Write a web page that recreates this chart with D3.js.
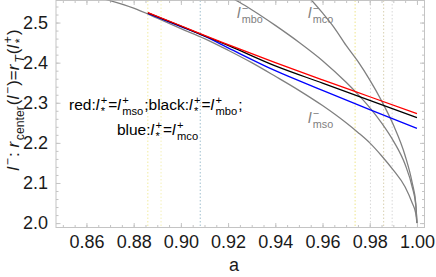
<!DOCTYPE html>
<html>
<head>
<meta charset="utf-8">
<script src="https://cdn.jsdelivr.net/npm/d3@7"></script>
<style>
  body { margin: 0; background: #fff; }
  svg { display: block; font-family: Arial, "Liberation Sans", sans-serif; }
  text { white-space: pre; }
</style>
</head>
<body>
<div id="chart"></div>
<script>
// gray reference curves l_mso, l_mbo, l_mco versus spin a
const aMso = [0.868, 0.880, 0.890, 0.900, 0.910, 0.920, 0.930, 0.940, 0.950, 0.960, 0.970, 0.975, 0.980, 0.985, 0.990, 0.995, 0.998, 0.9995, 1.000];
const lMso = [2.558, 2.536, 2.511, 2.485, 2.460, 2.431, 2.400, 2.366, 2.331, 2.293, 2.250, 2.226, 2.200, 2.168, 2.132, 2.090, 2.050, 2.024, 2.000];

const aMbo = [0.922, 0.925, 0.930, 0.940, 0.950, 0.960, 0.970, 0.975, 0.980, 0.985, 0.990, 0.995, 0.998, 0.9995, 1.000];
const lMbo = [2.560, 2.550, 2.532, 2.493, 2.451, 2.405, 2.351, 2.321, 2.288, 2.250, 2.205, 2.146, 2.090, 2.045, 2.000];

const aMco = [0.955, 0.960, 0.965, 0.970, 0.975, 0.980, 0.985, 0.990, 0.995, 0.998, 0.9995, 1.000];
const lMco = [2.558, 2.524, 2.487, 2.443, 2.403, 2.357, 2.305, 2.245, 2.168, 2.100, 2.049, 2.000];

// coloured curves, l_* = l_mso (red), l_mbo (black), l_mco (blue)
const aStar = [0.886, 0.900, 0.910, 0.920, 0.940, 0.960, 0.980, 1.000];
const lRed = [2.525, 2.492, 2.468, 2.445, 2.400, 2.357, 2.315, 2.273];
const lBlack = [2.524, 2.491, 2.467, 2.443, 2.392, 2.349, 2.306, 2.263];
const lBlue = [2.523, 2.490, 2.466, 2.437, 2.380, 2.331, 2.283, 2.236];

// dotted vertical marker lines
const markA = [0.886, 0.8916, 0.9082, 0.9738, 0.9803, 0.9859, 0.9895];
const markColor = ["#f2eca0", "#f4f0b8", "#9fbfcf", "#eee58a", "#d8d8d8", "#d8d0b0", "#d8d8d8"];

const xTicks = [0.86, 0.88, 0.90, 0.92, 0.94, 0.96, 0.98, 1.00];
const yTicks = [2.0, 2.1, 2.2, 2.3, 2.4, 2.5];

const W = 436, H = 277;
const margin = { top: 0.5, right: 11.5, bottom: 49.5, left: 56 };
const width = W - margin.left - margin.right;
const height = H - margin.top - margin.bottom;

const svg = d3.select('#chart').append('svg')
    .attr('width', W)
    .attr('height', H);

const g = svg.append('g')
    .attr('transform', `translate(${margin.left}, ${margin.top})`);

const x = d3.scaleLinear().domain([0.8471, 1.0032]).range([0, width]);
const y = d3.scaleLinear().domain([1.989, 2.555]).range([height, 0]);

g.append('clipPath').attr('id', 'clip')
    .append('rect').attr('width', width).attr('height', height);

// marker lines
g.selectAll('.mark')
    .data(markA)
    .join('line')
    .attr('x1', d => x(d)).attr('x2', d => x(d))
    .attr('y1', 0).attr('y2', height)
    .attr('stroke', (d, i) => markColor[i])
    .attr('stroke-width', 1)
    .attr('stroke-dasharray', '1.5,2');

// frame and ticks
const frameColor = '#c4c4c4';
g.append('rect')
    .attr('width', width).attr('height', height)
    .attr('fill', 'none').attr('stroke', frameColor);

const xMinor = d3.range(0.850, 1.0031, 0.005);
const yMinor = d3.range(2.0, 2.555, 0.02);

g.append('g').attr('transform', `translate(0,${height})`)
    .call(d3.axisBottom(x).tickValues(xMinor).tickSize(-2.5).tickFormat(''));
g.append('g')
    .call(d3.axisTop(x).tickValues(xMinor).tickSize(-2.5).tickFormat(''));
g.append('g')
    .call(d3.axisLeft(y).tickValues(yMinor).tickSize(-2.5).tickFormat(''));
g.append('g').attr('transform', `translate(${width},0)`)
    .call(d3.axisRight(y).tickValues(yMinor).tickSize(-2.5).tickFormat(''));

const xAxis = g.append('g').attr('transform', `translate(0,${height})`)
    .call(d3.axisBottom(x).tickValues(xTicks).tickSize(-4.5).tickPadding(8).tickFormat(d3.format('.2f')));
const yAxis = g.append('g')
    .call(d3.axisLeft(y).tickValues(yTicks).tickSize(-4.5).tickPadding(8).tickFormat(d3.format('.1f')));
g.append('g')
    .call(d3.axisTop(x).tickValues(xTicks).tickSize(-4.5).tickFormat(''));
g.append('g').attr('transform', `translate(${width},0)`)
    .call(d3.axisRight(y).tickValues(yTicks).tickSize(-4.5).tickFormat(''));

g.selectAll('.domain').remove();
g.selectAll('.tick line').attr('stroke', frameColor);
xAxis.selectAll('text').attr('font-size', 18).attr('fill', '#1a1a1a').attr('dy', '0.71em');
yAxis.selectAll('text').attr('font-size', 18).attr('fill', '#1a1a1a');

// curves
const plot = g.append('g').attr('clip-path', 'url(#clip)');
const line = d3.line()
    .x(d => x(d[0]))
    .y(d => y(d[1]))
    .curve(d3.curveMonotoneX);

const grayCurves = [[aMso, lMso], [aMbo, lMbo], [aMco, lMco]];
grayCurves.forEach(([as, ls]) => {
    plot.append('path')
        .datum(d3.zip(as, ls))
        .attr('d', line)
        .attr('fill', 'none')
        .attr('stroke', '#808080')
        .attr('stroke-width', 1.3);
});

const colCurves = [[lBlue, '#0000ff'], [lBlack, '#000000'], [lRed, '#ff0000']];
colCurves.forEach(([ls, c]) => {
    plot.append('path')
        .datum(d3.zip(aStar, ls))
        .attr('d', line)
        .attr('fill', 'none')
        .attr('stroke', c)
        .attr('stroke-width', 1.3);
});

// rich text helper: strings are upright, objects are {b, sup, sub}
function rich(parent, px, py, parts, size, fill, anchor) {
    const grp = parent.append('g').attr('fill', fill);
    let cx = 0;
    parts.forEach(p => {
        if (typeof p === 'string') {
            const t = grp.append('text').attr('x', cx).attr('font-size', size).text(p);
            cx += t.node().getComputedTextLength();
        } else {
            const b = grp.append('text').attr('x', cx).attr('font-size', size)
                .attr('font-style', 'italic').text(p.b);
            cx += b.node().getComputedTextLength() + size * 0.1;
            let w = 0;
            if (p.sup) {
                const s = grp.append('text').attr('x', cx).attr('y', -size * 0.42)
                    .attr('font-size', size * 0.72).text(p.sup);
                w = Math.max(w, s.node().getComputedTextLength());
            }
            if (p.sub) {
                const s = grp.append('text').attr('x', cx).attr('y', size * 0.32)
                    .attr('font-size', size * 0.72).attr('font-style', p.subIt ? 'italic' : null).text(p.sub);
                w = Math.max(w, s.node().getComputedTextLength());
            }
            cx += w + size * 0.06;
        }
    });
    const dx = anchor === 'middle' ? -cx / 2 : 0;
    grp.attr('transform', `translate(${px + dx},${py})`);
    return grp;
}

const lStar = { b: 'l', sup: '+', sub: '*' };
rich(svg, 69, 110, ['red:', lStar, '=', { b: 'l', sup: '+', sub: 'mso' }, ';black:', lStar, '=', { b: 'l', sup: '+', sub: 'mbo' }, ';'], 15.5, '#000');
rich(svg, 158, 135, ['blue:', lStar, '=', { b: 'l', sup: '+', sub: 'mco' }], 15.5, '#000', 'middle');

rich(svg, 237, 18, [{ b: 'l', sup: '\u2212', sub: 'mbo' }], 15, '#808080');
rich(svg, 308, 18, [{ b: 'l', sup: '\u2212', sub: 'mco' }], 15, '#808080');
rich(svg, 308, 123, [{ b: 'l', sup: '\u2212', sub: 'mso' }], 15, '#808080');

// axis titles
svg.append('text')
    .attr('x', 234).attr('y', 271)
    .attr('text-anchor', 'middle').attr('font-size', 18).attr('fill', '#1a1a1a')
    .text('a');

const yTitle = svg.append('g').attr('transform', 'translate(19,100) rotate(-90)');
rich(yTitle, 0, 0, [{ b: 'l', sup: '\u2212' }, ': ', { b: 'r', sub: 'center' }, '(', { b: 'l', sup: '\u2212' }, ')=',
    { b: 'r', sub: 'T', subIt: true }, '(', lStar, ')'], 17, '#1a1a1a', 'middle');
</script>
</body>
</html>
